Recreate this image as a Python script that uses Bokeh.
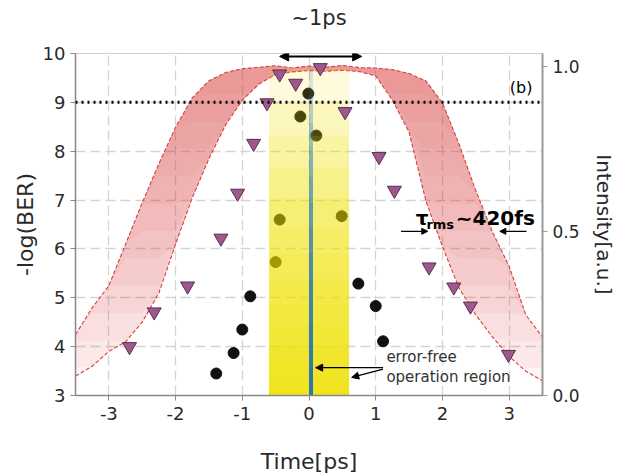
import numpy as np
from bokeh.plotting import figure
from bokeh.models import (Range1d, LinearAxis, Span, Arrow, NormalHead, Label,
                          FixedTicker, PrintfTickFormatter)
from bokeh.embed import file_html
from bokeh.resources import INLINE

# ---------------- data ----------------
time_grid = [-3.5, -3.25, -3.0, -2.75, -2.5, -2.25, -2.0, -1.75, -1.5, -1.25,
             -1.0, -0.75, -0.5, -0.25, 0.0, 0.25, 0.5, 0.75, 1.0, 1.25,
             1.5, 1.75, 2.0, 2.25, 2.5, 2.75, 3.0, 3.25, 3.5]
# outer (wide) and inner (narrow) pulse intensity envelopes, a.u.
outer_intensity = [0.185, 0.267, 0.334, 0.46, 0.586, 0.705, 0.816, 0.905, 0.957, 0.982,
                   0.994, 0.998, 1.003, 0.996, 1.002, 0.998, 1.004, 0.997, 0.996, 0.991,
                   0.979, 0.957, 0.89, 0.764, 0.623, 0.497, 0.393, 0.245, 0.178]
inner_intensity = [0.059, 0.089, 0.134, 0.163, 0.223, 0.312, 0.46, 0.601, 0.72, 0.823,
                   0.898, 0.947, 0.976, 0.984, 0.988, 0.986, 0.989, 0.985, 0.972, 0.898,
                   0.801, 0.593, 0.453, 0.326, 0.245, 0.178, 0.119, 0.074, 0.045]

tri_time = [-2.69, -2.32, -1.82, -1.32, -1.07, -0.83, -0.63, -0.44, -0.2, 0.17,
            0.54, 1.05, 1.28, 1.8, 2.17, 2.42, 2.99]
tri_logber = [4.0, 4.71, 5.24, 6.22, 7.14, 8.16, 8.99, 9.58, 9.39, 9.71,
              8.81, 7.89, 7.2, 5.63, 5.22, 4.83, 3.84]

dot_time = [-1.39, -1.13, -1.0, -0.88, -0.5, -0.44, -0.13, -0.01, 0.11, 0.49,
            0.74, 1.0, 1.11]
dot_logber = [3.45, 3.87, 4.35, 5.03, 5.73, 6.6, 8.71, 9.18, 8.32, 6.67,
              5.29, 4.83, 4.11]

region_start, region_end, region_top = -0.6, 0.6, 9.7
center_time = 0.03
threshold = 9
x_ticks = [-3, -2, -1, 0, 1, 2, 3]
y_ticks = [3, 4, 5, 6, 7, 8, 9, 10]
int_ticks = [0.0, 0.5, 1.0]

FONT = "DejaVu Sans"
TXT = "#2a2a2a"

p = figure(width=618, height=476, x_range=Range1d(-3.5, 3.5), y_range=Range1d(3, 10),
           output_backend="svg", toolbar_location=None,
           min_border_left=75, min_border_right=68, min_border_top=53, min_border_bottom=80)
p.extra_y_ranges = {"int": Range1d(0, 1.04)}

# axes
p.xaxis.ticker = FixedTicker(ticks=x_ticks)
p.xaxis.formatter = PrintfTickFormatter(format="%d")
p.yaxis.ticker = FixedTicker(ticks=y_ticks)
p.xaxis.axis_label = "Time[ps]"
p.yaxis.axis_label = "-log(BER)"
for ax in (p.xaxis[0], p.yaxis[0]):
    ax.axis_label_text_font = FONT
    ax.axis_label_text_font_size = "22px"
    ax.axis_label_text_font_style = "normal"
    ax.axis_label_text_color = TXT
    ax.major_label_text_font = FONT
    ax.major_label_text_font_size = "18px"
    ax.major_label_text_color = TXT
    ax.axis_line_color = "#888888"
    ax.axis_line_width = 1.5
    ax.major_tick_line_color = "#888888"
    ax.major_tick_out = 5
    ax.major_tick_in = 0
    ax.minor_tick_line_color = None
p.xaxis.major_label_standoff = 6
p.xaxis.axis_label_standoff = 26
p.yaxis.major_label_standoff = 5
p.yaxis.axis_label_standoff = 2

rax = LinearAxis(y_range_name="int", ticker=FixedTicker(ticks=int_ticks),
                 formatter=PrintfTickFormatter(format="%.1f"))
rax.axis_label = "Intensity[a.u.]"
rax.axis_label_text_font = FONT
rax.axis_label_text_font_size = "20px"
rax.axis_label_text_font_style = "normal"
rax.axis_label_text_color = TXT
rax.major_label_text_font = FONT
rax.major_label_text_font_size = "17px"
rax.major_label_text_color = TXT
rax.axis_line_color = "#999999"
rax.axis_line_width = 2
rax.major_tick_line_color = "#999999"
rax.major_tick_out = 5
rax.major_tick_in = 0
rax.minor_tick_line_color = None
rax.major_label_standoff = 5
rax.axis_label_standoff = 9
p.add_layout(rax, "right")

p.xgrid.ticker = FixedTicker(ticks=x_ticks)
p.ygrid.ticker = FixedTicker(ticks=y_ticks)
for g in (p.xgrid[0], p.ygrid[0]):
    g.grid_line_color = "#d4d4d4"
    g.grid_line_width = 1.3
    g.grid_line_dash = "10 5"
p.outline_line_color = "#cfcfcf"
p.background_fill_color = "white"
p.border_fill_color = "white"

# ---------- pulse bands (vertical gradient by stacked layers) ----------
outer = np.array(outer_intensity)
inner = np.array(inner_intensity)
n_red = 12
for k in range(n_red):
    level = k / n_red
    lower = np.minimum(np.maximum(inner, level), outer)
    p.varea(x=time_grid, y1=lower, y2=outer, fill_color="#d83c3c", fill_alpha=0.056,
            y_range_name="int")
p.line(time_grid, outer_intensity, y_range_name="int", line_color="#d64040",
       line_width=1.1, line_dash="4 2")
p.line(time_grid, inner_intensity, y_range_name="int", line_color="#d64040",
       line_width=1.1, line_dash="4 2")

# threshold line
p.add_layout(Span(location=threshold, dimension="width", line_color="black",
                  line_width=3, line_dash="2 4"))

# BER dots (seen through the region highlight)
p.scatter(dot_time, dot_logber, marker="circle", size=11,
          fill_color="#111111", line_color="#111111")

# error-free region (yellow gradient) and centre line (blue gradient)
n_y = 14
for k in range(n_y):
    top = 3 + (region_top - 3) * ((k + 1) / n_y) ** 1.5
    p.quad(left=region_start, right=region_end, bottom=3, top=top,
           fill_color="#f2e200", fill_alpha=0.14, line_color=None)
for k in range(n_y):
    top = 3 + (region_top - 3) * ((k + 1) / n_y) ** 1.2
    p.segment(x0=center_time, y0=3, x1=center_time, y1=top,
              line_color="#1a6fc0", line_alpha=0.16, line_width=4, line_cap="butt")

# triangles on top
p.scatter(tri_time, tri_logber, marker="inverted_triangle", size=14,
          fill_color="#9c5a8c", line_color="#5e2a55", line_width=1)

# annotations
p.add_layout(Label(x=0.15, y=10.72, text="~1ps", text_font=FONT, text_font_size="21px",
                   text_color=TXT, text_align="center", text_baseline="middle"), "above")
p.add_layout(Arrow(start=NormalHead(size=9, fill_color="black", line_color="black"),
                   end=NormalHead(size=9, fill_color="black", line_color="black"),
                   x_start=-0.44, y_start=9.94, x_end=0.79, y_end=9.94,
                   line_color="black", line_width=2))

p.add_layout(Label(x=3.01, y=9.31, text="(b)", text_font=FONT, text_font_size="16px",
                   text_color="black", text_baseline="middle"))

p.add_layout(Label(x=1.6, y=6.64, text="τ", text_font=FONT, text_font_size="20px",
                   text_font_style="bold", text_color="black", text_baseline="alphabetic"))
p.add_layout(Label(x=1.76, y=6.5, text="rms", text_font=FONT, text_font_size="13px",
                   text_font_style="bold", text_color="black", text_baseline="alphabetic"))
p.add_layout(Label(x=2.2, y=6.64, text="~420fs", text_font=FONT, text_font_size="20px",
                   text_font_style="bold", text_color="black", text_baseline="alphabetic"))
p.add_layout(Arrow(end=NormalHead(size=6, fill_color="black", line_color="black"),
                   x_start=1.38, y_start=6.36, x_end=1.78, y_end=6.36,
                   line_color="black", line_width=1.2))
p.add_layout(Arrow(end=NormalHead(size=6, fill_color="black", line_color="black"),
                   x_start=3.26, y_start=6.36, x_end=2.86, y_end=6.36,
                   line_color="black", line_width=1.2))

p.add_layout(Label(x=1.16, y=3.78, text="error-free", text_font=FONT,
                   text_font_size="15px", text_color="#333333", text_baseline="middle"))
p.add_layout(Label(x=1.16, y=3.37, text="operation region", text_font=FONT,
                   text_font_size="15px", text_color="#333333", text_baseline="middle"))
p.add_layout(Arrow(end=NormalHead(size=7, fill_color="black", line_color="black"),
                   x_start=1.11, y_start=3.57, x_end=0.1, y_end=3.57,
                   line_color="black", line_width=1.3))
p.add_layout(Arrow(end=NormalHead(size=7, fill_color="black", line_color="black"),
                   x_start=1.11, y_start=3.54, x_end=0.64, y_end=3.37,
                   line_color="black", line_width=1.3))

open("out.html", "w").write(file_html(p, INLINE))
